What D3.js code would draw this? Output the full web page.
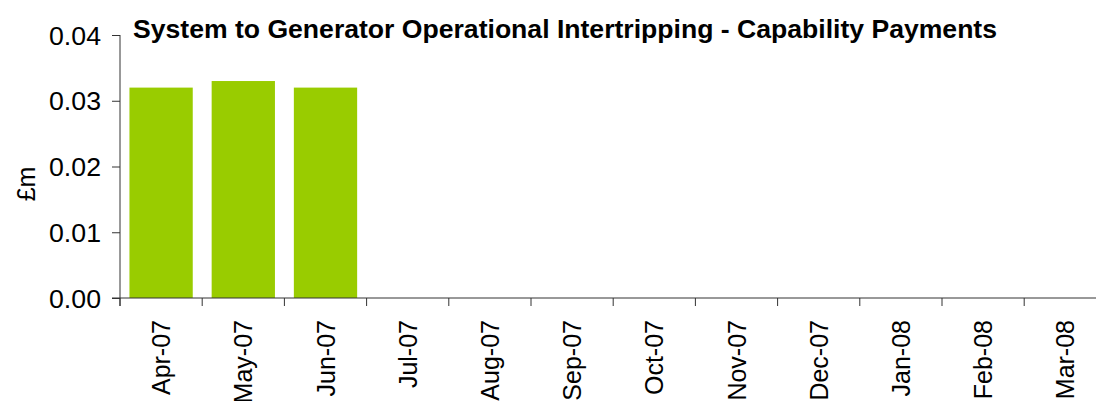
<!DOCTYPE html>
<html lang="en">
<head>
<meta charset="utf-8">
<script src="https://d3js.org/d3.v7.min.js"></script>
<style>
  body { margin: 0; background: #fff; }
  text { font-family: Arial, "Liberation Sans", sans-serif; fill: #000; }
</style>
</head>
<body>
<svg id="chart" width="1096" height="401"></svg>
<script>
// data
const months = ["Apr-07", "May-07", "Jun-07", "Jul-07", "Aug-07", "Sep-07",
                "Oct-07", "Nov-07", "Dec-07", "Jan-08", "Feb-08", "Mar-08"];
const payments = [0.032, 0.033, 0.032, null, null, null, null, null, null, null, null, null];
const yTicks = [0, 0.01, 0.02, 0.03, 0.04];
const title = "System to Generator Operational Intertripping - Capability Payments";

const svg = d3.select("#chart");

const x0 = 120, step = 82.2;
const x = d3.scaleBand()
    .domain(months)
    .range([x0, x0 + step * months.length])
    .paddingInner(0.23)
    .paddingOuter(0.115);

const y = d3.scaleLinear().domain([0, 0.04]).range([298, 35]);

// bars
svg.append("g")
  .selectAll("rect")
  .data(months.map((m, i) => ({m, v: payments[i]})).filter(d => d.v != null))
  .join("rect")
    .attr("x", d => x(d.m))
    .attr("width", x.bandwidth())
    .attr("y", d => y(d.v))
    .attr("height", d => y(0) - y(d.v))
    .attr("fill", "#99cc00");

// y axis
const yAxis = svg.append("g")
    .attr("transform", `translate(${x0},0)`)
    .call(d3.axisLeft(y).tickValues(yTicks).tickFormat(d3.format(".2f")).tickSize(8).tickPadding(11));
yAxis.select(".domain").attr("stroke", "#333").attr("d", `M0,${y(0.04)}V${y(0) + 8}`);
yAxis.selectAll(".tick line").attr("stroke", "#333");
yAxis.selectAll(".tick text")
    .style("font-size", "25px")
    .attr("dy", "0.36em")
    .attr("textLength", 52)
    .attr("lengthAdjust", "spacingAndGlyphs");

// x axis: line plus ticks at band boundaries
const xg = svg.append("g");
xg.append("line")
    .attr("x1", x0 - 8).attr("x2", 1096)
    .attr("y1", y(0)).attr("y2", y(0))
    .attr("stroke", "#333");
xg.selectAll(".xt")
  .data(months)
  .join("line")
    .attr("class", "xt")
    .attr("x1", d => x(d) - x.step() * 0.115)
    .attr("x2", d => x(d) - x.step() * 0.115)
    .attr("y1", y(0)).attr("y2", y(0) + 8)
    .attr("stroke", "#333");
xg.selectAll(".xl")
  .data(months)
  .join("text")
    .attr("class", "xl")
    .attr("transform", d => `translate(${x(d) + x.bandwidth() / 2},320) rotate(-90)`)
    .attr("text-anchor", "end")
    .attr("dy", "0.36em")
    .style("font-size", "25px")
    .text(d => d);

// y label
svg.append("text")
    .attr("transform", "translate(35,184) rotate(-90)")
    .attr("text-anchor", "middle")
    .style("font-size", "25px")
    .text("£m");

// title
svg.append("text")
    .attr("x", 133)
    .attr("y", 38)
    .style("font-size", "25px")
    .style("font-weight", "bold")
    .attr("textLength", 864)
    .attr("lengthAdjust", "spacingAndGlyphs")
    .text(title);
</script>
</body>
</html>
